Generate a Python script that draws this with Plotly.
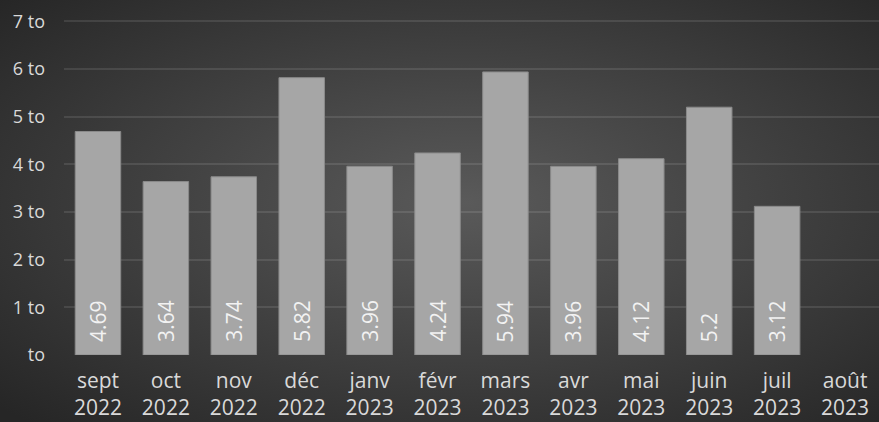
import base64
import plotly.graph_objects as go

months = ["sept<br>2022", "oct<br>2022", "nov<br>2022", "déc<br>2022", "janv<br>2023", "févr<br>2023",
          "mars<br>2023", "avr<br>2023", "mai<br>2023", "juin<br>2023", "juil<br>2023", "août<br>2023"]
values = [4.69, 3.64, 3.74, 5.82, 3.96, 4.24, 5.94, 3.96, 4.12, 5.2, 3.12, None]
ytick_vals = [0, 1, 2, 3, 4, 5, 6, 7]
ytick_text = ["to", "1 to", "2 to", "3 to", "4 to", "5 to", "6 to", "7 to"]

W, H = 879, 422
L, R, T, B = 64, 0, 20, 67
pw, ph = W - L - R, H - T - B

FONT = "Open Sans"

svg = f'''<svg xmlns="http://www.w3.org/2000/svg" width="{W}" height="{H}" viewBox="0 0 {W} {H}" preserveAspectRatio="none">
<defs><radialGradient id="g" cx="0.53" cy="0.48" r="0.72">
<stop offset="0" stop-color="#5a5a5a"/><stop offset="1" stop-color="#262626"/></radialGradient></defs>
<rect width="{W}" height="{H}" fill="url(#g)"/></svg>'''
src = "data:image/svg+xml;base64," + base64.b64encode(svg.encode()).decode()

fig = go.Figure()
fig.add_trace(go.Bar(
    x=months, y=values,
    marker=dict(color="#a6a6a6", line=dict(color="#8a8a8a", width=1)),
    hoverinfo="skip",
))

for m, v in zip(months, values):
    if v is None:
        continue
    fig.add_annotation(x=m, y=0, text=f"{v:g}", textangle=-90, showarrow=False,
                       xanchor="center", yanchor="bottom", yshift=11,
                       font=dict(family=FONT, size=21, color="#f2f2f2"))

fig.add_layout_image(dict(
    source=src, xref="paper", yref="paper",
    x=-L / pw, y=1 + T / ph, sizex=W / pw, sizey=H / ph,
    xanchor="left", yanchor="top", sizing="stretch", layer="below",
))

fig.update_layout(
    width=W, height=H,
    margin=dict(l=L, r=R, t=T, b=B),
    paper_bgcolor="#303030",
    plot_bgcolor="rgba(0,0,0,0)",
    bargap=0.33,
    showlegend=False,
    font=dict(family=FONT, color="#d9d9d9"),
)
fig.update_xaxes(
    showgrid=False, zeroline=False, showline=False,
    tickfont=dict(family=FONT, size=21, color="#d9d9d9"),
    ticklabelstandoff=11,
)
fig.update_yaxes(
    range=[0, 7.03], tickvals=ytick_vals, ticktext=ytick_text,
    showgrid=True, gridcolor="rgba(255,255,255,0.1)", gridwidth=1.5,
    zeroline=False, showline=False,
    tickfont=dict(family=FONT, size=18, color="#d9d9d9"),
    ticklabelstandoff=18,
)

fig.write_html("out.html", config={"displayModeBar": False},
               post_script="document.body.style.margin='0';document.body.style.overflow='hidden';")
